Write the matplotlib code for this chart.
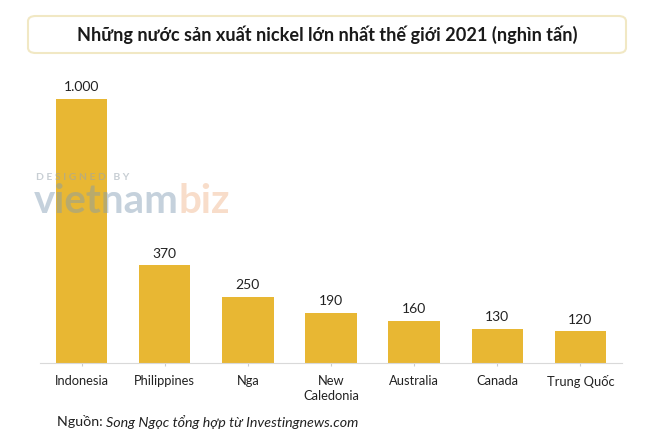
import matplotlib.pyplot as plt
from matplotlib.patches import FancyBboxPatch

countries = ["Indonesia", "Philippines", "Nga", "New\nCaledonia", "Australia", "Canada", "Trung Quốc"]
output_kt = [1000, 370, 250, 190, 160, 130, 120]
value_labels = ["1.000", "370", "250", "190", "160", "130", "120"]

title = "Những nước sản xuất nickel lớn nhất thế giới 2021 (nghìn tấn)"
source_lead = "Nguồn: "
source_text = "Song Ngọc tổng hợp từ Investingnews.com"

plt.rcParams["font.family"] = ["Lato", "DejaVu Sans"]

fig = plt.figure(figsize=(6.52, 4.45), dpi=100)
W, H = 652, 445

# bar area, placed in pixel terms of the reference
ax = fig.add_axes([40 / W, 1 - 363 / H, 582 / W, 293 / H])
x = range(len(countries))
bars = ax.bar(x, output_kt, width=0.62, color="#E8B733", zorder=2)
ax.set_xlim(-0.5, len(countries) - 0.5)
ax.set_ylim(0, 1110)

for b, lab in zip(bars, value_labels):
    ax.annotate(lab, (b.get_x() + b.get_width() / 2, b.get_height()),
                xytext=(0, 4), textcoords="offset points",
                ha="center", va="bottom", fontsize=10, color="#222222")

ax.set_xticks(list(x))
ax.set_xticklabels(countries, fontsize=9.3, color="#222222", linespacing=1.3)
ax.tick_params(axis="x", length=2.5, color="#cccccc", pad=6)
ax.set_yticks([])
for side in ["top", "left", "right"]:
    ax.spines[side].set_visible(False)
ax.spines["bottom"].set_color("#d9d9d9")

# title box
box = FancyBboxPatch((28 / W, 1 - 53 / H), 598 / W, 37 / H,
                     boxstyle="round,pad=0,rounding_size=0.012",
                     transform=fig.transFigure, facecolor="white",
                     edgecolor="#F1E8C4", linewidth=1.5)
fig.patches.append(box)
fig.text(327 / W, 1 - 35 / H, title, ha="center", va="center",
         fontsize=13.1, fontweight="bold", color="#1a1a1a")

# watermark
fig.text(36 / W, 1 - 178 / H, "D E S I G N E D   B Y", fontsize=7.5, fontweight="bold",
         color="#9aa6b0", alpha=0.55, va="center", zorder=5)
wm = fig.text(34 / W, 1 - 201 / H, "vietnam", fontsize=29, fontweight="bold",
              color="#7f9bb3", alpha=0.45, va="center", zorder=5)
fig.canvas.draw()
wb = wm.get_window_extent()
fig.text(wb.x1 / W, 1 - 201 / H, "biz", fontsize=29, fontweight="bold",
         color="#f0b48a", alpha=0.45, va="center", zorder=5)

# source
t = fig.text(57 / W, 1 - 422 / H, source_lead, fontsize=10.3, color="#222222", va="center")
fig.canvas.draw()
bb = t.get_window_extent()
fig.text(bb.x1 / W, 1 - 422 / H, source_text, fontsize=10.3, style="italic",
         color="#222222", va="center")

fig.savefig("out.png", dpi=100)
